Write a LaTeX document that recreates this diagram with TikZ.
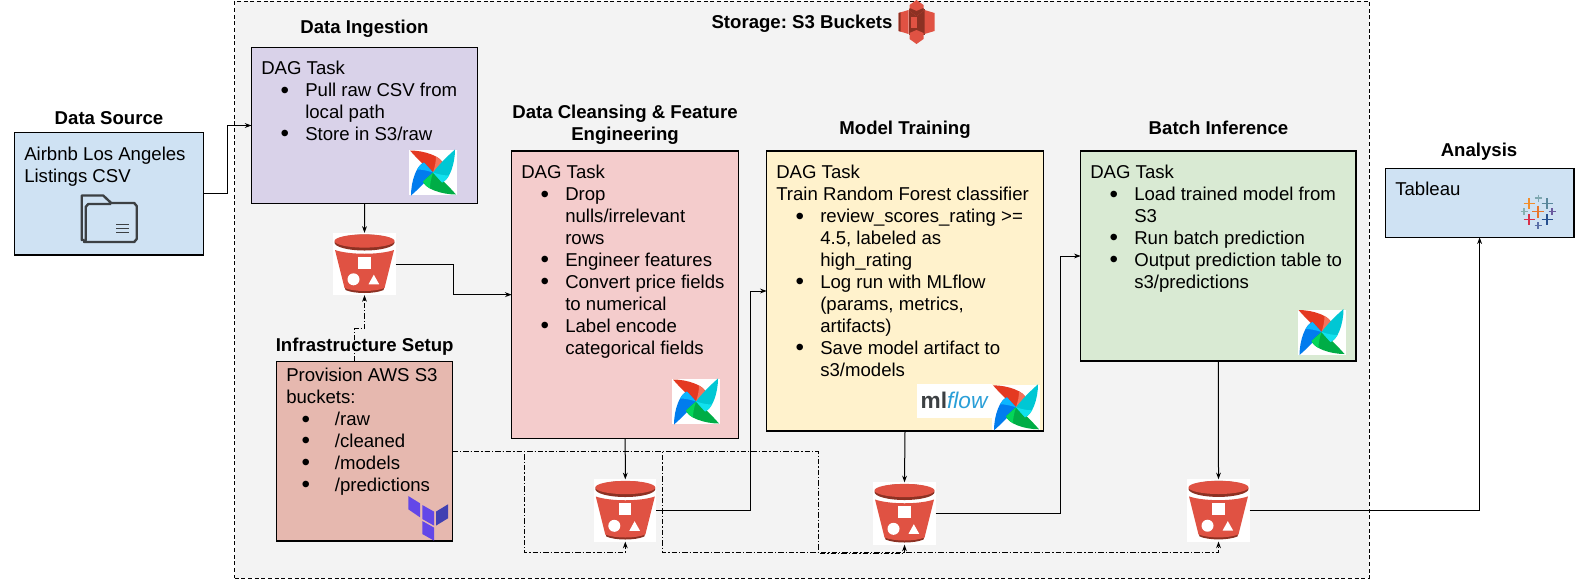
\documentclass[tikz,border=0pt]{standalone}
\usepackage{fontspec}
\setmainfont{Liberation Sans}
\usetikzlibrary{arrows.meta}
\frenchspacing

\definecolor{s3red}{HTML}{E05243}
\definecolor{s3dark}{HTML}{8C3123}
\definecolor{tfpurple}{HTML}{6347E8}
\definecolor{tfdark}{HTML}{4040B2}
\definecolor{iconink}{HTML}{3C4043}
\definecolor{paleblue}{HTML}{CFE2F3}
\definecolor{palepurple}{HTML}{D9D2E9}
\definecolor{palepink}{HTML}{F4CCCC}
\definecolor{paleyellow}{HTML}{FFF2CC}
\definecolor{palegreen}{HTML}{D9EAD3}
\definecolor{palebrick}{HTML}{E6B8AF}
\definecolor{storagegray}{HTML}{F3F3F3}
\definecolor{mlblue}{HTML}{2A9FD8}

\newcommand{\dotmark}{\raisebox{-1pt}{\scalebox{1.3}{\textbullet}}}
\newcommand{\bitem}[1]{\hspace*{14.5pt}\makebox[18.5pt][l]{\dotmark}#1}
\newcommand{\bcont}[1]{\hspace*{33pt}#1}
\newcommand{\sitem}[1]{\hspace*{11.5pt}\makebox[25pt][l]{\dotmark}#1}

\tikzset{
  boxnode/.style n args={3}{draw, line width=1pt, fill=#1, inner sep=0pt, outer sep=0pt,
    minimum width=#2*0.75pt, minimum height=#3*0.75pt},
  titletext/.style={font=\fontsize{13.95}{16.5}\selectfont\bfseries, align=center, inner sep=0pt, anchor=base},
  bodytext/.style={font=\fontsize{13.95}{16.47}\selectfont, align=left, anchor=north west, inner sep=0pt},
  bucketnode/.style={fill=white, inner sep=0pt, outer sep=0pt, minimum size=46.7pt},
  flowline/.style={->, line width=0.75pt},
  setupline/.style={->, line width=0.75pt, dash pattern=on 4pt off 1.5pt on 1pt off 1.5pt},
  airflow/.pic={
    \fill[white] (-24,-22.5) rectangle (24,22.5);
    \foreach \ang/\deep/\lite in {0/E43921/F4725B, 90/017CEE/0CB6FF, 180/00AD46/04D659, 270/00C7D4/11E1EE}{
      \definecolor{deepc}{HTML}{\deep}
      \definecolor{litec}{HTML}{\lite}
      \begin{scope}[rotate=\ang]
        \fill[deepc] (-23,-22) .. controls (-8,-22) and (8,-16) .. (10,-9) -- (0,0) .. controls (-8,-6) and (-16,-14) .. cycle;
        \fill[litec] (3,-16) .. controls (6,-14) and (9,-12) .. (10,-9) -- (0,0) .. controls (2,-6) and (3,-11) .. cycle;
      \end{scope}
    }
  },
  bucket/.pic={
    \fill[s3dark] (-20,22) -- (20,22) -- (19,26) .. controls (10,30) and (-10,30) .. (-19,26) -- cycle;
    \fill[s3red] (-29.5,-14) .. controls (-15,-9) and (15,-9) .. (29.5,-14) -- (20,24) .. controls (10,28) and (-10,28) .. (-20,24) -- cycle;
    \fill[s3dark] (0,-21.5) ellipse (30 and 8);
    \fill[s3red] (0,-23) ellipse (30 and 6.6);
    \fill[white] (-6.5,-7.3) rectangle (6,4.6);
    \fill[white] (-11,15.3) circle (6);
    \fill[white] (4,20.3) -- (14.7,20.3) -- (9.3,10.7) -- cycle;
  },
  s3logo/.pic={
    \fill[s3dark] (-8,-13) rectangle (8,13);
    \fill[s3red] (-18,-9) -- (-8,-12) -- (-8,12) -- (-18,9) -- cycle;
    \fill[s3red] (18,-9) -- (8,-12) -- (8,12) -- (18,9) -- cycle;
    \fill[s3dark] (-18,-9) -- (-16,-9.6) -- (-16,9.6) -- (-18,9) -- cycle;
    \fill[s3red] (0,-22) -- (7,-17) -- (7,-11) -- (0,-6) -- (-7,-11) -- (-7,-17) -- cycle;
    \fill[s3dark] (0,-11) -- (7,-14) -- (7,-11) -- (0,-6) -- (-7,-11) -- (-7,-14) -- cycle;
    \fill[s3red] (-6,-5) rectangle (0,6);
    \fill[s3red] (0,22) -- (7,17) -- (7,11) -- (0,8) -- (-7,11) -- (-7,17) -- cycle;
  },
  folderlogo/.pic={
    \draw[iconink, line width=1.8pt, line join=round] (-25,21) -- (-27.5,21) -- (-27.5,-23.5) -- (-6,-23.5) -- (2,-16) -- (25,-16) -- (27.5,-13) -- (27.5,20) -- (25,23) -- (-25,23) -- (-23.5,21) -- (-23.5,-12) -- (-21,-15) -- (2,-15);
    \foreach \rowy in {5.5,9.5,13.5}
      \draw[iconink, line width=1.3pt] (7,\rowy) -- (20,\rowy);
  },
  tableaulogo/.pic={
    \foreach \px/\py/\arm/\col in {-9/-8/5.5/F28E2B, 0.3/-13.7/3.5/7FA8B0, 9/-8/5.5/59879B,
        -14/0/3.5/86B0B0, 0/0/6/E8762C, 14/0/3.5/6A5A9E,
        -9/8/5.5/D9304A, 0/14/3.5/5A6FA8, 9/8/5.5/27508F}{
      \definecolor{pluscol}{HTML}{\col}
      \draw[pluscol, line width=0.95pt] (\px-\arm,\py) -- (\px+\arm,\py) (\px,\py-\arm) -- (\px,\py+\arm);
    }
  },
  terraformlogo/.pic={
    \fill[tfpurple] (-20,-22.3) -- (-8.3,-15) -- (-8.3,-1) -- (-20,-9) -- cycle;
    \fill[tfpurple] (-6,-13.3) -- (5.7,-6.7) -- (5.7,7.3) -- (-6,0.7) -- cycle;
    \fill[tfdark] (7.7,-6.7) -- (19.7,-14) -- (19.7,0) -- (7.7,7.3) -- cycle;
    \fill[tfpurple] (-6,2.7) -- (5.7,9.3) -- (5.7,22.3) -- (-6,15.7) -- cycle;
  },
}

\begin{document}
\begin{tikzpicture}[x=0.75pt, y=-0.75pt, >={Stealth[length=5pt,width=3.6pt]}]
    \useasboundingbox (0,0) rectangle (1583,579);

    % Storage frame
    \node[draw, fill=storagegray, line width=0.75pt, dash pattern=on 3pt off 2pt, inner sep=0pt,
      minimum width=1134.6*0.75pt, minimum height=577*0.75pt] (storage) at (802,289.5) {};
    \node[titletext] (storagetitle) at (802,28) {Storage: S3 Buckets};
    \pic at (916.5,22) {s3logo};

    % Boxes
    \node[boxnode={paleblue}{188.6}{122.3}] (source) at (109,193.85) {};
    \node[boxnode={palepurple}{226.2}{156}] (ingest) at (364.6,125.5) {};
    \node[boxnode={palepink}{227}{287.3}] (clean) at (625.2,294.65) {};
    \node[boxnode={paleyellow}{276.6}{280}] (train) at (905,291) {};
    \node[boxnode={palegreen}{275.3}{210}] (batch) at (1218.3,256) {};
    \node[boxnode={paleblue}{188.6}{69}] (analysis) at (1479.6,202.8) {};
    \node[boxnode={palebrick}{176.4}{179.3}] (setup) at (364.5,451.3) {};

    % Buckets
    \node[bucketnode] (rawbkt) at (364.5,264) {};
    \node[bucketnode] (cleanbkt) at (625.3,510.5) {};
    \node[bucketnode] (modelbkt) at (904.5,513.5) {};
    \node[bucketnode] (predbkt) at (1218.5,510.4) {};
    \foreach \bkt in {rawbkt,cleanbkt,modelbkt,predbkt}
      \pic at (\bkt) {bucket};

    % Headings
    \node[titletext] (sourcetitle) at (109,124) {Data Source};
    \node[titletext] (ingesttitle) at (364.5,33) {Data Ingestion};
    \node[titletext, anchor=center] (cleantitle) at (625,125) {Data Cleansing \& Feature\\Engineering};
    \node[titletext] (traintitle) at (905,134.7) {Model Training};
    \node[titletext] (batchtitle) at (1218.5,134) {Batch Inference};
    \node[titletext] (analysistitle) at (1479,156.7) {Analysis};
    \node[titletext] (setuptitle) at (364.7,351) {Infrastructure Setup};

    % Box texts
    \node[bodytext] (sourcetext) at (24,147) {Airbnb Los Angeles\\Listings CSV};
    \node[bodytext] (ingesttext) at (261,61) {DAG Task\\\bitem{Pull raw CSV from}\\\bcont{local path}\\\bitem{Store in S3/raw}};
    \node[bodytext] (cleantext) at (521,165) {DAG Task\\\bitem{Drop}\\\bcont{nulls/irrelevant}\\\bcont{rows}\\\bitem{Engineer features}\\\bitem{Convert price fields}\\\bcont{to numerical}\\\bitem{Label encode}\\\bcont{categorical fields}};
    \node[bodytext] (traintext) at (776,165) {DAG Task\\Train Random Forest classifier\\\bitem{review\_scores\_rating >=}\\\bcont{4.5, labeled as}\\\bcont{high\_rating}\\\bitem{Log run with MLflow}\\\bcont{(params, metrics,}\\\bcont{artifacts)}\\\bitem{Save model artifact to}\\\bcont{s3/models}};
    \node[bodytext] (batchtext) at (1090,165) {DAG Task\\\bitem{Load trained model from}\\\bcont{S3}\\\bitem{Run batch prediction}\\\bitem{Output prediction table to}\\\bcont{s3/predictions}};
    \node[bodytext] (analysistext) at (1395,182) {Tableau};
    \node[bodytext] (setuptext) at (286,368) {Provision AWS S3\\buckets:\\\sitem{/raw}\\\sitem{/cleaned}\\\sitem{/models}\\\sitem{/predictions}};

    % Logos
    \pic at (109.2,219) {folderlogo};
    \pic at (433,172.5) {airflow};
    \pic at (696,401.5) {airflow};
    \pic at (1016,407.3) {airflow};
    \pic at (1321.5,332) {airflow};
    \pic at (1538,211.7) {tableaulogo};
    \pic at (428.3,518.3) {terraformlogo};
    \fill[white] (917,384) rectangle (992.3,417.7);
    \node[inner sep=0pt, font=\fontsize{17}{17}\selectfont] (mlflowtext) at (954,400.5) {\textcolor{iconink}{\bfseries ml}\textcolor{mlblue}{\itshape flow}};

    % Flow connectors
    \draw[flowline] (source.east) -- ++(24.4,0) |- (ingest.west);
    \draw[flowline] (ingest.south) -- (rawbkt.north);
    \draw[flowline] (rawbkt.east) -- ++(58,0) |- (clean.west);
    \draw[flowline] (clean.south) -- (cleanbkt.north);
    \draw[flowline] (cleanbkt.east) -- ++(94,0) |- (train.west);
    \draw[flowline] (train.south) -- (modelbkt.north);
    \draw[flowline] (modelbkt.east) -- ++(124.7,0) |- (batch.west);
    \draw[flowline] (batch.south) -- (predbkt.north);
    \draw[flowline] (predbkt.east) -| (analysis.south);

    % Provisioning connectors
    \draw[setupline] ([xshift=-10.2*0.75pt]setup.north) -- ++(0,-33) -| (rawbkt.south);
    \draw[setupline] (setup.east) -- ++(71.5,0) |- ([yshift=-8.3pt]cleanbkt.south) -- (cleanbkt.south);
    \draw[setupline] (setup.east) -- ++(209.8,0) |- ([yshift=-8.1pt]predbkt.south) -- (predbkt.south);
    \draw[setupline] (setup.east) -- ++(365.8,0) |- ([yshift=-6.6pt]modelbkt.south) -- (modelbkt.south);
\end{tikzpicture}
\end{document}
